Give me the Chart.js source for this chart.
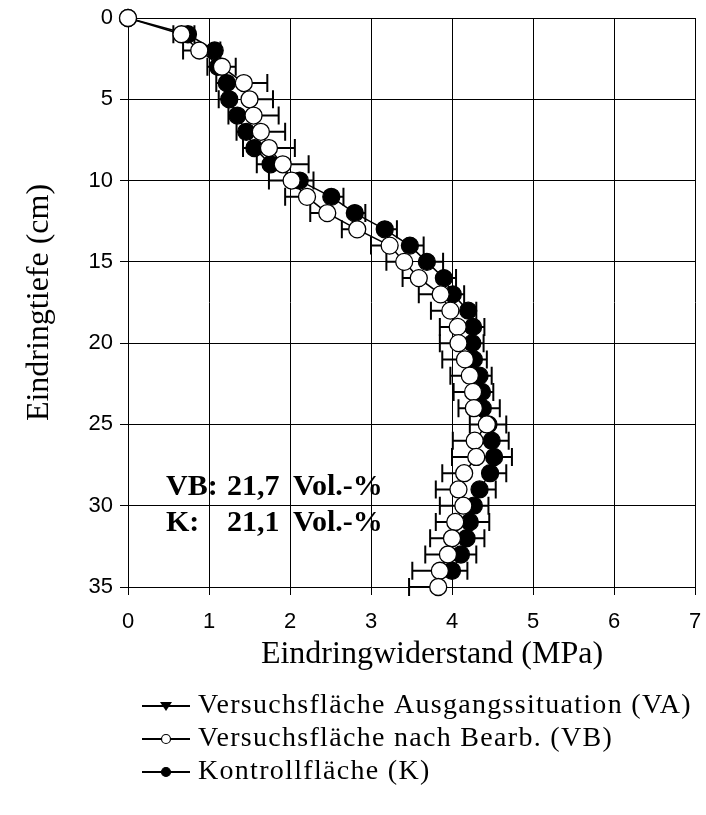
<!DOCTYPE html>
<html>
<head>
<meta charset="utf-8">
<script src="https://cdn.jsdelivr.net/npm/chart.js@4.4.1/dist/chart.umd.min.js"></script>
<style>
html, body { margin: 0; padding: 0; background: #fff; }
#wrap { width: 706px; height: 815px; }
</style>
</head>
<body>
<div id="wrap"><canvas id="chart" width="706" height="815"></canvas></div>
<script>
// Eindringtiefe (cm)
const depthCm = [0, 1, 2, 3, 4, 5, 6, 7, 8, 9, 10, 11, 12, 13, 14, 15, 16, 17,
	18, 19, 20, 21, 22, 23, 24, 25, 26, 27, 28, 29, 30, 31, 32, 33, 34, 35];

// Versuchsflaeche nach Bearb. (VB), MPa
const vbValues = [0, 0.66, 0.88, 1.16, 1.43, 1.50, 1.55, 1.64, 1.74, 1.91, 2.02, 2.21,
	2.46, 2.83, 3.23, 3.41, 3.59, 3.86, 3.98, 4.07, 4.08, 4.16, 4.22, 4.26,
	4.27, 4.43, 4.28, 4.30, 4.15, 4.08, 4.14, 4.04, 4.00, 3.95, 3.85, 3.83];
// error bar, signed (negative = drawn to the left)
const vbErr = [0, -0.10, -0.20, 0.17, 0.29, 0.29, 0.31, 0.30, 0.32, 0.32, -0.28, -0.27,
	-0.21, -0.19, -0.23, -0.22, -0.20, -0.27, -0.24, -0.22, -0.23, -0.28, -0.24, -0.24,
	-0.19, -0.21, -0.27, -0.30, -0.27, -0.28, -0.29, -0.24, -0.27, -0.28, -0.34, -0.36];

// Kontrollflaeche (K), MPa
const kValues = [0, 0.74, 1.07, 1.11, 1.22, 1.25, 1.35, 1.46, 1.56, 1.76, 2.12, 2.51,
	2.80, 3.17, 3.48, 3.69, 3.90, 4.01, 4.20, 4.26, 4.25, 4.27, 4.34, 4.37,
	4.38, 4.45, 4.49, 4.52, 4.47, 4.34, 4.27, 4.22, 4.18, 4.11, 4.00, null];
const kErr = [0, 0.08, 0.07, -0.13, -0.13, -0.13, -0.11, -0.12, -0.14, -0.17, 0.17, 0.15,
	0.13, 0.15, 0.17, 0.20, 0.15, 0.14, 0.10, 0.14, 0.14, 0.16, 0.15, 0.14,
	0.21, 0.22, 0.21, 0.22, 0.20, 0.20, 0.18, 0.24, 0.22, 0.19, 0.19, null];

// Versuchsflaeche Ausgangssituation (VA) - not visible in the figure, legend only
const vaValues = [];

const seriesLabels = [
	'Versuchsfläche Ausgangssituation (VA)',
	'Versuchsfläche nach Bearb. (VB)',
	'Kontrollfläche (K)'
];
const xTickValues = [0, 1, 2, 3, 4, 5, 6, 7];
const yTickValues = [0, 5, 10, 15, 20, 25, 30, 35];
const moistureLines = [['VB:', '21,7', 'Vol.-%'], ['K:', '21,1', 'Vol.-%']];

function makePoints(values, errs)
{
	var pts = [];
	for (var i = 0; i < values.length; i++) {
		if (values[i] == null) continue;
		pts.push({x: values[i], y: depthCm[i], e: errs ? errs[i] : 0});
	}
	return pts;
}

const serif = '"Liberation Serif", "Times New Roman", serif';
const sans = '"Liberation Sans", Arial, sans-serif';

// horizontal error bars, drawn below the markers
const errorBars = {
	id: 'errorBars',
	beforeDatasetsDraw(chart) {
		const ctx = chart.ctx, xs = chart.scales.x, ys = chart.scales.y;
		ctx.save();
		ctx.strokeStyle = '#000';
		ctx.lineWidth = 2;
		chart.data.datasets.forEach(ds => {
			ds.data.forEach(p => {
				if (!p.e) return;
				const x0 = xs.getPixelForValue(p.x);
				const x1 = xs.getPixelForValue(p.x + p.e);
				const y = ys.getPixelForValue(p.y);
				ctx.beginPath();
				ctx.moveTo(x0, y); ctx.lineTo(x1, y);
				ctx.moveTo(x1, y - 9); ctx.lineTo(x1, y + 9);
				ctx.stroke();
			});
		});
		ctx.restore();
	}
};

// axis titles, moisture note and the legend
const decor = {
	id: 'decor',
	afterDraw(chart) {
		const ctx = chart.ctx, area = chart.chartArea;
		ctx.save();
		ctx.fillStyle = '#000';

		ctx.font = '32px ' + serif;
		ctx.textAlign = 'center';
		ctx.textBaseline = 'middle';
		ctx.fillText('Eindringwiderstand (MPa)', 432, 655);
		ctx.save();
		ctx.translate(40, (area.top + area.bottom) / 2);
		ctx.rotate(-Math.PI / 2);
		ctx.fillText('Eindringtiefe (cm)', 0, 0);
		ctx.restore();

		ctx.font = 'bold 30px ' + serif;
		ctx.textAlign = 'left';
		ctx.textBaseline = 'alphabetic';
		var colX = [166, 227, 293];
		moistureLines.forEach((row, r) => {
			row.forEach((t, c) => ctx.fillText(t, colX[c], 495 + r * 36));
		});

		// legend: line with marker, then label
		ctx.font = '28px ' + serif;
		ctx.textBaseline = 'middle';
		if ('letterSpacing' in ctx) ctx.letterSpacing = '1.3px';
		[0, 1, 2].forEach((di, r) => {
			const ds = chart.data.datasets[di];
			const y = 706 + r * 33;
			ctx.strokeStyle = '#000';
			ctx.lineWidth = 2;
			ctx.beginPath(); ctx.moveTo(142, y); ctx.lineTo(190, y); ctx.stroke();
			ctx.lineWidth = 1.2;
			if (ds.legendMarker == 'triangle') {
				ctx.beginPath();
				ctx.moveTo(160, y - 4); ctx.lineTo(172, y - 4); ctx.lineTo(166, y + 5);
				ctx.closePath(); ctx.fill();
			} else {
				ctx.beginPath();
				ctx.arc(166, y, 4.5, 0, Math.PI * 2);
				ctx.fillStyle = ds.pointBackgroundColor;
				ctx.fill();
				ctx.stroke();
				ctx.fillStyle = '#000';
			}
			ctx.fillText(ds.label, 198, y);
		});
		ctx.restore();
	}
};

var ctx = document.getElementById('chart').getContext('2d');
var chart = new Chart(ctx, {
	type: 'line',
	data: {
		datasets: [
			{
				label: seriesLabels[0],
				data: makePoints(vaValues, null),
				legendMarker: 'triangle',
				borderColor: '#000',
				borderWidth: 1.5,
				pointStyle: 'triangle',
				pointRotation: 180,
				pointRadius: 8,
				pointBackgroundColor: '#000',
				order: 2
			},
			{
				label: seriesLabels[1],
				data: makePoints(vbValues, vbErr),
				legendMarker: 'circle',
				borderColor: '#000',
				borderWidth: 1.5,
				pointRadius: 8.5,
				pointBorderWidth: 1.3,
				pointBorderColor: '#000',
				pointBackgroundColor: '#fff',
				clip: false,
				order: 0
			},
			{
				label: seriesLabels[2],
				data: makePoints(kValues, kErr),
				legendMarker: 'circle',
				borderColor: '#000',
				borderWidth: 1.5,
				pointRadius: 8.5,
				pointBorderWidth: 1.3,
				pointBorderColor: '#000',
				pointBackgroundColor: '#000',
				clip: false,
				order: 1
			}
		]
	},
	options: {
		responsive: false,
		animation: false,
		layout: { autoPadding: false, padding: { top: 18, right: 11, left: 0, bottom: 0 } },
		plugins: { legend: { display: false }, tooltip: { enabled: false } },
		elements: { line: { tension: 0 } },
		scales: {
			x: {
				type: 'linear',
				min: 0, max: 7,
				afterBuildTicks: s => { s.ticks = xTickValues.map(v => ({value: v})); },
				afterFit: s => { s.height = 228; s.paddingLeft = 0; s.paddingRight = 0; },
				ticks: { color: '#000', font: { family: sans, size: 22 }, padding: 14 },
				grid: { color: '#000', lineWidth: 1, tickLength: 8, tickColor: '#000' },
				border: { color: '#000', width: 1 }
			},
			y: {
				type: 'linear',
				reverse: true,
				min: 0, max: 35,
				afterBuildTicks: s => { s.ticks = yTickValues.map(v => ({value: v})); },
				afterFit: s => { s.width = 128; s.paddingTop = 0; s.paddingBottom = 0; },
				ticks: { color: '#000', font: { family: sans, size: 22 }, padding: 7 },
				grid: { color: '#000', lineWidth: 1, tickLength: 8, tickColor: '#000' },
				border: { color: '#000', width: 1 }
			}
		}
	},
	plugins: [errorBars, decor]
});
</script>
</body>
</html>
